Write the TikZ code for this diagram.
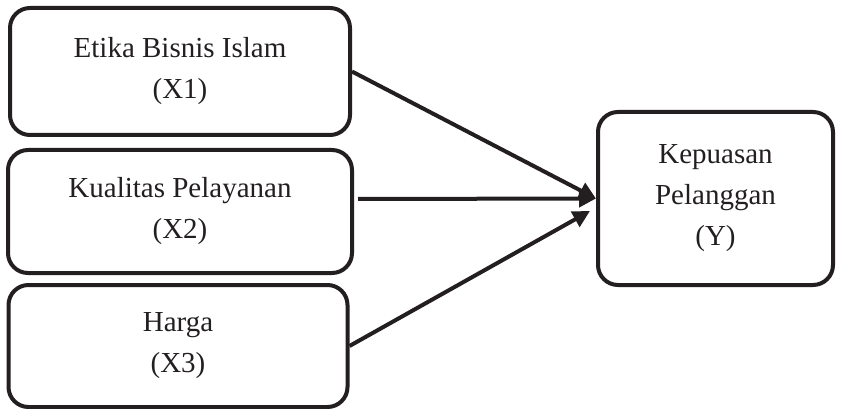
\documentclass[tikz,border=0pt]{standalone}
\usepackage{fontspec}
\setmainfont{Liberation Serif}
\usetikzlibrary{arrows.meta}
\definecolor{linegray}{HTML}{231F20}
\begin{document}
\begin{tikzpicture}[x=1pt, y=-1pt,
        varbox/.style = {draw=linegray, line width=4pt, rounded corners=20pt,
            align=center, text=linegray, inner sep=0pt,
            font=\fontsize{29}{41}\selectfont},
        link/.style = {draw=linegray, line width=4pt,
            -{Triangle[length=17pt,width=17pt]}}]
    \useasboundingbox (0,0) rectangle (844,409);
    \node [varbox, minimum width=340pt, minimum height=127pt] (x1) at (180,71.5)
        {Etika Bisnis Islam\\(X1)};
    \node [varbox, minimum width=344pt, minimum height=123pt] (x2) at (180,211.5)
        {Kualitas Pelayanan\\(X2)};
    \node [varbox, minimum width=339pt, minimum height=122pt] (x3) at (178,346)
        {Harga\\(X3)};
    \node [varbox, minimum width=235pt, minimum height=173pt] (y) at (715.5,198.5)
        {Kepuasan\\Pelanggan\\(Y)};
    \coordinate (x2out) at (358,199);
    \coordinate (x3in) at (590,211);
    \draw [link] (x1.east) -- (y.west);
    \draw [link] (x2out) -- (y.west);
    \draw [link] (x3.east) -- (x3in);
\end{tikzpicture}
\end{document}
